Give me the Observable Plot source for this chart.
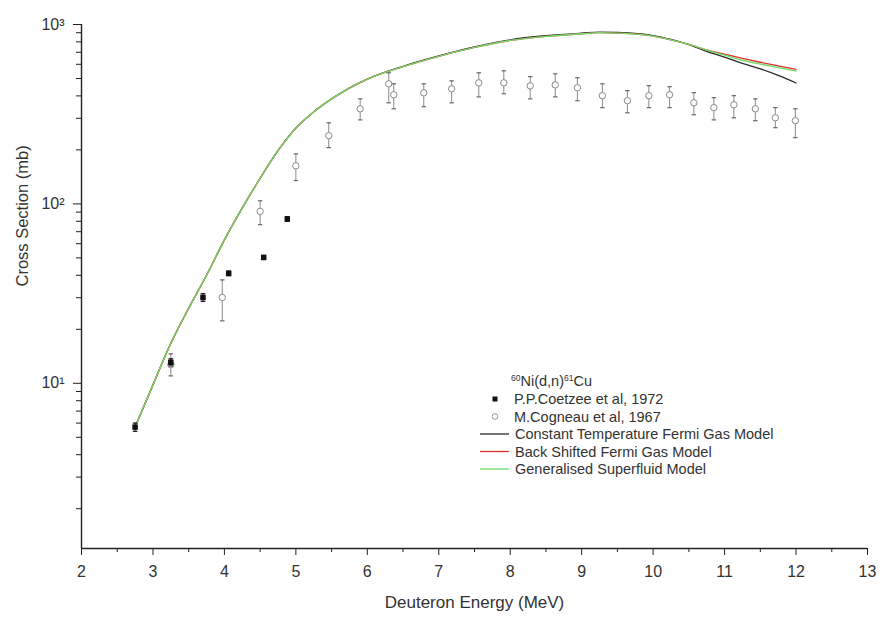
<!DOCTYPE html>
<html>
<head>
<meta charset="utf-8">
<script src="https://cdn.jsdelivr.net/npm/d3@7"></script>
<script src="https://cdn.jsdelivr.net/npm/@observablehq/plot@0.6"></script>
<style>
  body { margin: 0; background: #fff; }
  #chart svg { font-family: "Liberation Sans", Arial, sans-serif; }
</style>
</head>
<body>
<div id="chart"></div>
<script>
// Model calculations (mb) on a common energy grid (MeV)
const modelEnergy = [2.75, 3.0, 3.25, 3.5, 3.75, 4.0, 4.25, 4.5, 4.75, 5.0, 5.25, 5.5, 6.0, 6.5, 7.0, 7.5, 8.0, 8.5, 9.0, 9.25, 9.5, 10.0, 10.25, 10.5, 10.75, 11.0, 11.25, 11.5, 11.75, 12.0];
const ctfgm = [5.7, 9.8, 16.7, 26.2, 40, 63, 95, 139, 198, 265, 326, 385, 496, 585, 668, 750, 822, 866, 895, 907, 903, 868, 825, 772, 708, 658, 608, 566, 520, 472];
const bsfgm = [5.7, 9.8, 16.7, 26.2, 40, 63, 95, 139, 198, 265, 326, 385, 496, 582, 665, 745, 815, 858, 888, 900, 895, 862, 822, 775, 722, 683, 648, 616, 588, 562];
const gsm   = [5.7, 9.8, 16.7, 26.2, 40, 63, 95, 139, 198, 265, 326, 385, 496, 582, 665, 745, 815, 858, 888, 900, 895, 862, 822, 775, 720, 675, 632, 601, 575, 550];

// P.P. Coetzee et al, 1972
const coetzeeEnergy = [2.75, 3.25, 3.70, 4.06, 4.55, 4.88];
const coetzeeValue  = [5.7, 13.1, 30.1, 41.0, 50.3, 82.4];
const coetzeeLow    = [5.4, 12.5, 28.6, 39.8, 49.0, 80.0];
const coetzeeHigh   = [6.0, 13.7, 31.6, 42.2, 51.6, 84.8];

// M. Cogneau et al, 1967
const cogneauEnergy = [3.25, 3.97, 4.50, 5.00, 5.46, 5.90, 6.30, 6.37, 6.79, 7.18, 7.56, 7.91, 8.28, 8.63, 8.94, 9.29, 9.64, 9.94, 10.23, 10.57, 10.85, 11.13, 11.43, 11.71, 11.99];
const cogneauValue  = [12.7, 30.1, 90.8, 163, 240, 339, 467, 406, 416, 438, 473, 473, 455, 461, 444, 401, 376, 401, 406, 366, 344, 357, 339, 302, 291];
const cogneauLow    = [11.0, 22.3, 76.6, 135, 206, 294, 366, 339, 348, 366, 395, 411, 385, 395, 376, 344, 322, 344, 344, 314, 294, 302, 291, 266, 234];
const cogneauHigh   = [14.6, 37.7, 104, 190, 283, 385, 538, 467, 467, 485, 538, 552, 512, 531, 505, 467, 428, 456, 450, 417, 391, 401, 385, 344, 339];

// Axis ticks
const xTicks = [2, 3, 4, 5, 6, 7, 8, 9, 10, 11, 12, 13];
const xMinorTicks = [2.5, 3.5, 4.5, 5.5, 6.5, 7.5, 8.5, 9.5, 10.5, 11.5, 12.5];
const yTicks = [10, 100, 1000];
const yTickLabels = ["10\u00B9", "10\u00B2", "10\u00B3"];
const yMinorTicks = [2, 3, 4, 5, 6, 7, 8, 9, 20, 30, 40, 50, 60, 70, 80, 90, 200, 300, 400, 500, 600, 700, 800, 900];

const xLabel = "Deuteron Energy (MeV)";
const yLabel = "Cross Section (mb)";

const seriesNames = ["Constant Temperature Fermi Gas Model", "Back Shifted Fermi Gas Model", "Generalised Superfluid Model"];
const seriesColors = ["#2a2a2a", "#e0302a", "#6fdc6a"];
const seriesValues = [ctfgm, bsfgm, gsm];

const models = seriesValues.flatMap((vals, s) =>
  vals.map((v, i) => ({model: seriesNames[s], x: modelEnergy[i], y: v})));
const coetzee = coetzeeEnergy.map((x, i) => ({x, y: coetzeeValue[i], lo: coetzeeLow[i], hi: coetzeeHigh[i]}));
const cogneau = cogneauEnergy.map((x, i) => ({x, y: cogneauValue[i], lo: cogneauLow[i], hi: cogneauHigh[i]}));

// Horizontal cap used at the ends of the error bars
const capSymbol = {
  draw(context, size) {
    const w = Math.sqrt(size / Math.PI);
    context.moveTo(-w, 0);
    context.lineTo(w, 0);
  }
};

const ink = "#333";

const chart = Plot.plot({
  width: 879,
  height: 619,
  marginLeft: 81,
  marginRight: 12,
  marginTop: 24,
  marginBottom: 71,
  style: {background: "#fff", color: ink, fontFamily: "'Liberation Sans', Arial, sans-serif"},
  x: {domain: [2, 13]},
  y: {type: "log", domain: [1.2, 1000]},
  marks: [
    Plot.axisX({ticks: xTicks, tickSize: 7, tickPadding: 10, fontSize: 16, label: null, stroke: "#222"}),
    Plot.axisX({ticks: xMinorTicks, tickSize: 4, tickFormat: () => "", label: null, stroke: "#222"}),
    Plot.axisY({ticks: yTicks, tickSize: 8, tickPadding: 9, fontSize: 16, label: null, stroke: "#222",
      tickFormat: d => yTickLabels[yTicks.indexOf(d)]}),
    Plot.axisY({ticks: yMinorTicks, tickSize: 5, tickFormat: () => "", label: null, stroke: "#222"}),
    Plot.ruleX([2], {stroke: "#222", strokeWidth: 1.4}),
    Plot.ruleY([1.2], {stroke: "#222", strokeWidth: 1.4}),

    // model curves
    Plot.line(models, {x: "x", y: "y", z: "model", curve: "monotone-x", strokeWidth: 1.3,
      stroke: d => seriesColors[seriesNames.indexOf(d.model)]}),

    // Cogneau data: open circles with error bars
    Plot.ruleX(cogneau, {x: "x", y1: "lo", y2: "hi", stroke: "#8a8a8a", strokeWidth: 1}),
    Plot.dot(cogneau, {x: "x", y: "lo", symbol: capSymbol, r: 2.2, stroke: "#666", strokeWidth: 1.2}),
    Plot.dot(cogneau, {x: "x", y: "hi", symbol: capSymbol, r: 2.2, stroke: "#666", strokeWidth: 1.2}),
    Plot.dot(cogneau, {x: "x", y: "y", r: 3.2, fill: "#fff", stroke: "#8a8a8a", strokeWidth: 1}),

    // Coetzee data: filled squares with error bars
    Plot.ruleX(coetzee, {x: "x", y1: "lo", y2: "hi", stroke: "#111", strokeWidth: 1}),
    Plot.dot(coetzee, {x: "x", y: "lo", symbol: capSymbol, r: 2.3, stroke: "#111", strokeWidth: 1.2}),
    Plot.dot(coetzee, {x: "x", y: "hi", symbol: capSymbol, r: 2.3, stroke: "#111", strokeWidth: 1.2}),
    Plot.dot(coetzee, {x: "x", y: "y", symbol: "square", r: 3.1, fill: "#111", stroke: "none"}),

    // axis titles
    Plot.text([xLabel], {frameAnchor: "bottom", dy: 59, fontSize: 17, fill: ink}),
    Plot.text([yLabel], {frameAnchor: "left", dx: -59, rotate: -90, fontSize: 16.5, fill: ink})
  ]
});

document.getElementById("chart").appendChild(chart);

// Legend inside the plot area
const svg = d3.select(chart);
const lg = svg.append("g")
  .attr("font-family", "'Liberation Sans', Arial, sans-serif")
  .attr("text-anchor", "start")
  .attr("fill", ink);

const title = lg.append("text").attr("x", 511).attr("y", 386).attr("font-size", 14.5);
title.append("tspan").attr("font-size", 8.5).attr("dy", -5).text("60");
title.append("tspan").attr("dy", 5).text("Ni(d,n)");
title.append("tspan").attr("font-size", 8.5).attr("dy", -5).text("61");
title.append("tspan").attr("dy", 5).text("Cu");

const rowY = [399, 416.5, 434, 451.5, 469];
lg.append("rect").attr("x", 492.5).attr("y", rowY[0] - 2.5).attr("width", 5).attr("height", 5).attr("fill", "#111");
lg.append("circle").attr("cx", 495).attr("cy", rowY[1]).attr("r", 2.8).attr("fill", "#fff").attr("stroke", "#9a9a9a");
lg.append("text").attr("x", 514).attr("y", rowY[0]).attr("dy", "0.35em").attr("font-size", 14.5).text("P.P.Coetzee et al, 1972");
lg.append("text").attr("x", 514).attr("y", rowY[1]).attr("dy", "0.35em").attr("font-size", 14.5).text("M.Cogneau et al, 1967");
seriesNames.forEach((name, i) => {
  const y = rowY[i + 2];
  lg.append("line").attr("x1", 480).attr("x2", 509).attr("y1", y).attr("y2", y)
    .attr("stroke", seriesColors[i]).attr("stroke-width", 1.3);
  lg.append("text").attr("x", 515).attr("y", y).attr("dy", "0.35em").attr("font-size", 14.5).text(name);
});
</script>
</body>
</html>
